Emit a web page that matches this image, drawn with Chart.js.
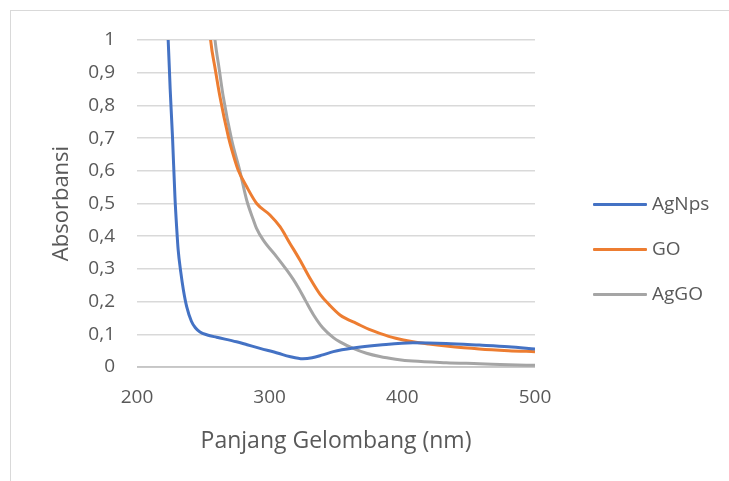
<!DOCTYPE html>
<html><head><meta charset="utf-8">
<script src="https://cdn.jsdelivr.net/npm/chart.js@4"></script>
<style>
html,body{margin:0;padding:0;background:#fff;}
#wrap{position:relative;width:729px;height:481px;overflow:hidden;}
#frame{position:absolute;left:10px;top:10px;width:740px;height:500px;border:1px solid #d9d9d9;box-sizing:border-box;}
canvas{position:absolute;left:0;top:0;}
#legend{position:absolute;left:593px;top:0;font-family:"Open Sans",sans-serif;font-size:19px;color:#595959;}
.item{position:absolute;left:0;white-space:nowrap;height:24px;line-height:24px;}
.item span.sw{display:inline-block;width:54px;height:3px;vertical-align:middle;margin-right:5px;border-radius:1px;}
</style></head>
<body><div id="wrap"><div id="frame"></div><canvas id="c" width="729" height="481"></canvas>
<div id="legend"></div></div>
<script>
const seriesNames = ["AgNps", "GO", "AgGO"];
const seriesColors = ["#4472C4", "#ED7D31", "#A5A5A5"];

const agnpsX = [221, 223.5, 225, 226.8, 228.6, 230, 231, 233, 235, 237.5, 241, 244, 247.5, 253, 260, 275, 283, 292.7, 306.5, 315, 325, 332, 340, 348, 363, 383, 408, 433, 458, 480, 500];
const agnpsY = [1.15, 1.0, 0.85, 0.70, 0.52, 0.42, 0.36, 0.29, 0.235, 0.184, 0.14, 0.12, 0.107, 0.098, 0.091, 0.077, 0.068, 0.057, 0.042, 0.032, 0.025, 0.028, 0.037, 0.047, 0.058, 0.067, 0.074, 0.072, 0.067, 0.062, 0.055];

const goX = [254, 255.5, 259, 262.5, 268.8, 271.4, 276, 282.7, 290.2, 300.2, 307.8, 315.3, 322.8, 330.4, 338, 345, 353, 358, 365, 375, 383, 395, 408, 420, 433, 458, 480, 500];
const goY = [1.08, 1.0, 0.91, 0.827, 0.705, 0.665, 0.605, 0.551, 0.50, 0.465, 0.429, 0.378, 0.327, 0.271, 0.222, 0.19, 0.159, 0.147, 0.134, 0.115, 0.103, 0.088, 0.077, 0.070, 0.064, 0.055, 0.050, 0.047];

const aggoX = [257, 258.8, 262, 265, 271.4, 277.5, 282.7, 287.7, 290, 295.2, 305.3, 312.8, 317.8, 322, 327, 333, 340, 348, 353, 363, 373, 383, 395, 408, 433, 458, 480, 500];
const aggoY = [1.08, 1.0, 0.91, 0.827, 0.694, 0.60, 0.51, 0.45, 0.425, 0.388, 0.337, 0.297, 0.268, 0.24, 0.203, 0.16, 0.12, 0.09, 0.077, 0.057, 0.042, 0.032, 0.024, 0.018, 0.013, 0.010, 0.007, 0.005];

const xTicks = [200, 300, 400, 500];
const yTicks = [0, 0.1, 0.2, 0.3, 0.4, 0.5, 0.6, 0.7, 0.8, 0.9, 1];

const xs = [agnpsX, goX, aggoX];
const ys = [agnpsY, goY, aggoY];

const datasets = seriesNames.map((n, i) => ({
  label: n,
  data: xs[i].map((x, k) => ({x: x, y: ys[i][k]})),
  borderColor: seriesColors[i],
  backgroundColor: seriesColors[i],
  borderWidth: 3,
  pointRadius: 0,
  cubicInterpolationMode: 'monotone',
  fill: false
}));

const font = {family: '"Open Sans", sans-serif', size: 19};
new Chart(document.getElementById('c'), {
  type: 'line',
  data: {datasets},
  options: {
    responsive: false,
    animation: false,
    layout: {padding: {left: 45, top: 40, right: 194, bottom: 22}},
    plugins: {legend: {display: false}, tooltip: {enabled: false}},
    scales: {
      x: {
        type: 'linear', min: 200, max: 500,
        afterBuildTicks: s => { s.ticks = xTicks.map(v => ({value: v})); },
        afterFit: s => { s.height = 92; },
        grid: {display: false, drawTicks: false},
        border: {display: false},
        ticks: {color: '#595959', font: font, padding: 19, maxRotation: 0},
        title: {display: true, text: 'Panjang Gelombang (nm)', color: '#595959', font: {family: font.family, size: 23}, padding: {top: 4}}
      },
      y: {
        min: 0, max: 1,
        afterBuildTicks: s => { s.ticks = yTicks.map(v => ({value: v})); },
        afterFit: s => { s.width = 92; },
        grid: {color: '#d9d9d9', lineWidth: 1.5, drawTicks: false},
        border: {display: false},
        ticks: {color: '#595959', font: font, padding: 22, callback: v => String(Math.round(v * 10) / 10).replace('.', ',')},
        title: {display: true, text: 'Absorbansi', color: '#595959', font: {family: font.family, size: 22}, padding: {bottom: 0}}
      }
    }
  },
  plugins: [{
    id: 'baseline',
    beforeDatasetsDraw(chart) {
      const {ctx, chartArea: a} = chart;
      const y0 = chart.scales.y.getPixelForValue(0);
      ctx.save();
      ctx.strokeStyle = '#bfbfbf'; ctx.lineWidth = 1.5;
      ctx.beginPath(); ctx.moveTo(a.left, y0); ctx.lineTo(a.right, y0); ctx.stroke();
      ctx.restore();
    }
  }]
});

const lg = document.getElementById('legend');
const legendTops = [191, 236, 281];
seriesNames.forEach((n, i) => {
  const d = document.createElement('div');
  d.className = 'item';
  d.style.top = legendTops[i] + 'px';
  d.innerHTML = '<span class="sw" style="background:' + seriesColors[i] + '"></span>' + n;
  lg.appendChild(d);
});
</script></body></html>
